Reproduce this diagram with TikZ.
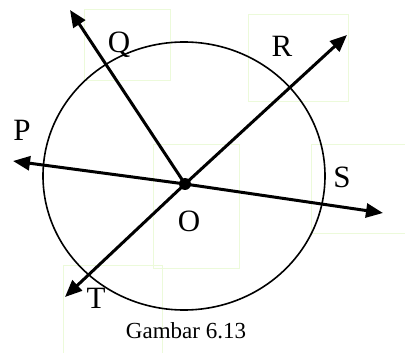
\documentclass[tikz,border=0pt]{standalone}
\usepackage{fontspec}
\setmainfont{Liberation Serif}
\usetikzlibrary{arrows.meta}
\definecolor{boxgreen}{RGB}{236,250,218}
\begin{document}
\begin{tikzpicture}[x=1pt,y=-1pt,
  ray/.style={line width=3pt,-{Triangle[length=17pt,width=14pt]}},
  lbl/.style={anchor=base,inner sep=0pt,font=\fontsize{31}{36}\selectfont},
  captext/.style={anchor=base,inner sep=0pt,font=\fontsize{23}{27}\selectfont},
  tbox/.style={draw=boxgreen,line width=1pt}]
\useasboundingbox (0,0) rectangle (405,353);
% faint text-box outlines
\draw[tbox] (84,10) rectangle (170,81);
\draw[tbox] (248,15) rectangle (348,102);
\draw[tbox] (153,145) rectangle (239,268);
\draw[tbox] (311,145) rectangle (406,233);
\draw[tbox] (63,265) rectangle (162,354);
% circle
\draw[line width=1.6pt] (184,176) ellipse [x radius=141, y radius=134];
% points
\coordinate (O) at (185,184);
\coordinate (P) at (13,161);
\coordinate (S) at (383,213);
\coordinate (Q) at (70,10);
\coordinate (R) at (347,35);
\coordinate (T) at (65,297);
\draw[ray] (O) -- (P);
\draw[ray] (O) -- (S);
\draw[ray] (O) -- (Q);
\draw[ray] (O) -- (R);
\draw[ray] (O) -- (T);
\fill (O) circle[radius=6];
% labels
\node[lbl] (lQ) at (119,53) {Q};
\node[lbl] (lR) at (282,57) {R};
\node[lbl] (lP) at (22,141) {P};
\node[lbl] (lS) at (342,188) {S};
\node[lbl] (lO) at (189,231) {O};
\node[lbl] (lT) at (96,308) {T};
\node[captext] (caption) at (186,338) {Gambar 6.13};
\end{tikzpicture}
\end{document}
